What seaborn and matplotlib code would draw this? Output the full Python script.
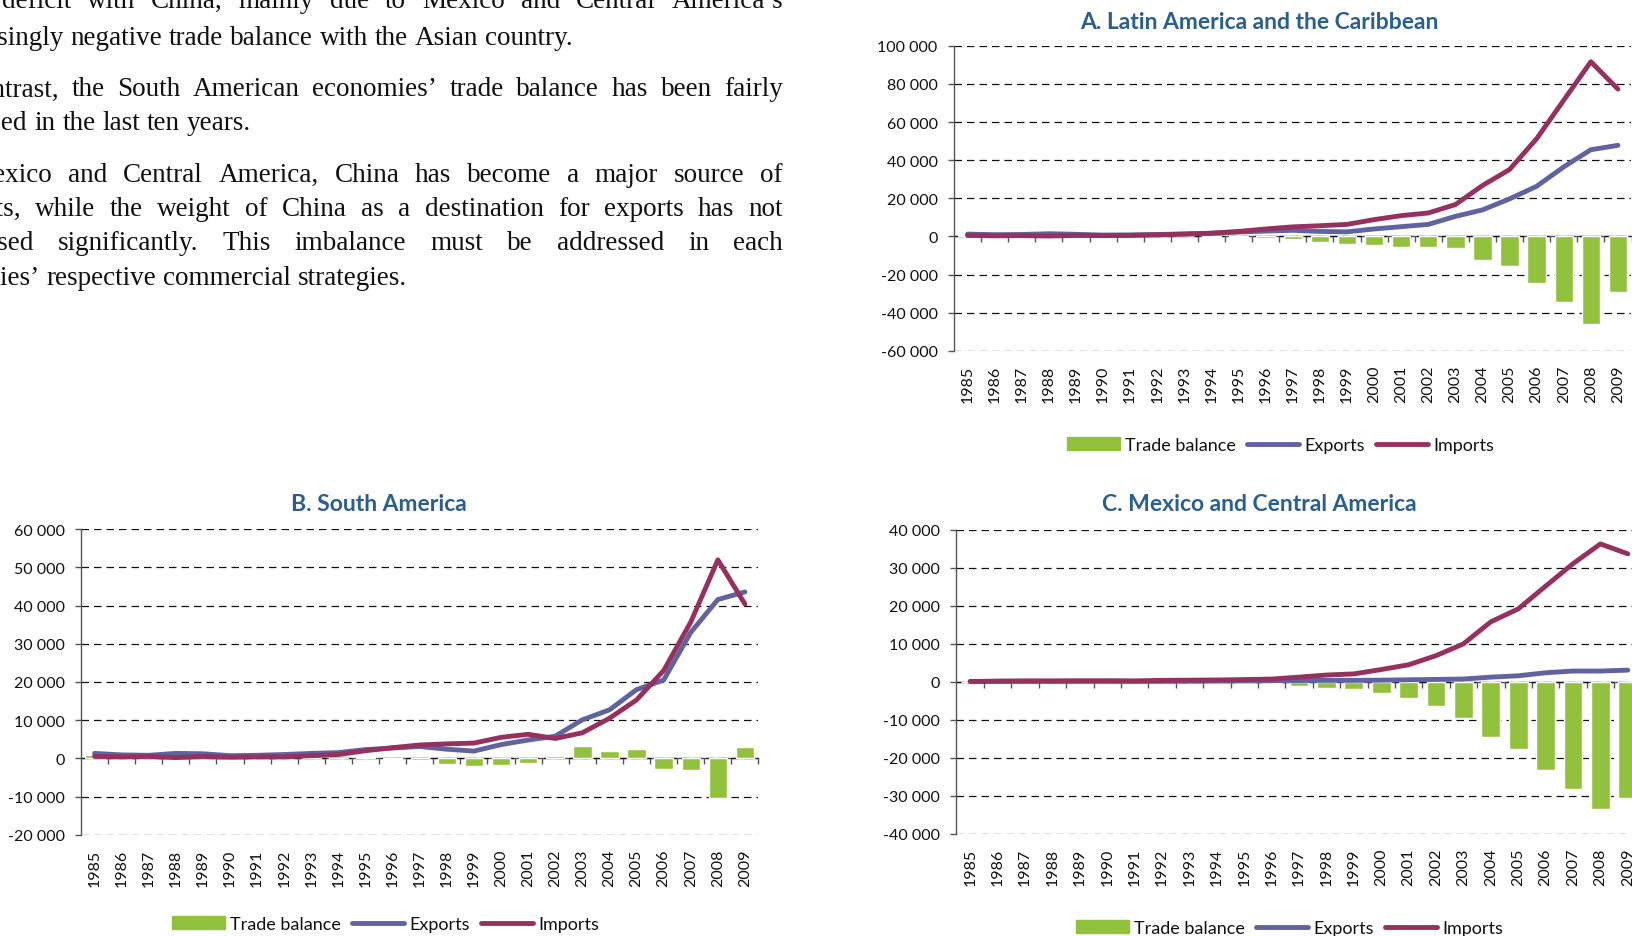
import numpy as np
import pandas as pd
import matplotlib
matplotlib.use("Agg")
import matplotlib.pyplot as plt
import matplotlib.patches as mpatches
import matplotlib.lines as mlines
from matplotlib.ticker import FuncFormatter
import seaborn as sns

years = list(range(1985, 2010))

# A. Latin America and the Caribbean (millions of dollars)
lac_balance = [700, 600, 600, 1200, 600, 300, 300, 200, 100, -100, -300, -700, -1300,
               -2800, -3900, -4400, -5500, -5500, -6000, -12300, -15500, -24400, -34300,
               -45900, -29300]
lac_exports = [1200, 900, 1000, 1400, 1100, 700, 800, 1000, 1300, 1600, 2300, 2800, 3200,
               2600, 2400, 3900, 5100, 6300, 10500, 13900, 19700, 26300, 36500, 45500, 47800]
lac_imports = [500, 300, 400, 200, 500, 400, 500, 800, 1200, 1700, 2600, 3900, 5000,
               5600, 6300, 8800, 10900, 12300, 16700, 26700, 35100, 51300, 71500, 91700, 77300]

# B. South America
sa_balance = [800, 500, 300, 1100, 700, 400, 400, 600, 600, 700, 350, -100, -400,
              -1400, -1900, -1700, -1200, 600, 3200, 1900, 2400, -2800, -3000, -10300, 3000]
sa_exports = [1300, 900, 800, 1300, 1200, 700, 800, 1000, 1300, 1500, 2300, 2700, 3100,
              2400, 1900, 3600, 4800, 5800, 10100, 12700, 18000, 20500, 33000, 41600, 43600]
sa_imports = [500, 400, 500, 200, 500, 300, 400, 400, 700, 1000, 2000, 2800, 3500,
              3800, 4000, 5500, 6300, 5200, 6700, 10500, 15300, 23000, 35700, 52000, 40400]

# C. Mexico and Central America
mca_balance = [0, -50, -100, -100, -150, -150, -100, -250, -250, -300, -350, -450, -1100,
               -1650, -1950, -3000, -4300, -6400, -9600, -14600, -17800, -23300, -28300,
               -33500, -30700]
mca_exports = [0, 50, 50, 50, 50, 50, 50, 50, 100, 100, 150, 200, 250,
               300, 300, 350, 450, 550, 650, 1150, 1500, 2300, 2750, 2750, 3000]
mca_imports = [0, 100, 150, 150, 200, 200, 150, 300, 350, 400, 500, 650, 1150,
               1700, 2000, 3150, 4400, 6800, 9900, 15700, 19100, 25100, 31000, 36200, 33600]

legend_labels = ["Trade balance", "Exports", "Imports"]

body_lines = [
    ("trade deficit with China, mainly due to Mexico and Central America\u2019s", True),
    ("increasingly negative trade balance with the Asian country.", False),
    ("In contrast, the South American economies\u2019 trade balance has been fairly", True),
    ("balanced in the last ten years.", False),
    ("In Mexico and Central America, China has become a major source of", True),
    ("imports, while the weight of China as a destination for exports has not", True),
    ("increased significantly. This imbalance must be addressed in each", True),
    ("countries\u2019 respective commercial strategies.", False),
]
body_baselines = [8, 45, 96.5, 130, 182, 216.5, 250.5, 285]

GREEN = "#92C13E"
EXP_C = "#6063A0"
IMP_C = "#96305E"
TITLE_C = "#2A5F8F"
AX_C = "#555555"

sns.set_theme(style="white")
plt.rcParams["font.family"] = ["Lato", "DejaVu Sans"]

W, H = 1633, 937
fig = plt.figure(figsize=(W / 100, H / 100), dpi=100)
renderer = fig.canvas.get_renderer()


def add_axes_px(left, top, right, bottom):
    return fig.add_axes([left / W, 1 - bottom / H, (right - left) / W, (bottom - top) / H])


def thousands(v, _):
    return f"{int(round(v)):,}".replace(",", " ")


def draw_panel(ax, balance, exports, imports, ymin, ymax, step):
    n = len(years)
    df = pd.DataFrame({"pos": np.arange(n), "year": [str(y) for y in years],
                       "balance": balance, "exports": exports, "imports": imports})
    sns.barplot(data=df, x="pos", y="balance", native_scale=True, color=GREEN,
                saturation=1, width=0.68, ax=ax, zorder=2)
    sns.lineplot(data=df, x="pos", y="exports", color=EXP_C, lw=3.5, ax=ax, zorder=4,
                 solid_capstyle="round", solid_joinstyle="round")
    sns.lineplot(data=df, x="pos", y="imports", color=IMP_C, lw=3.5, ax=ax, zorder=5,
                 solid_capstyle="round", solid_joinstyle="round")
    ax.set_xlim(-0.5, n - 0.5)
    ax.set_ylim(ymin, ymax)
    ax.set_xlabel("")
    ax.set_ylabel("")
    ax.set_xticks(df["pos"], labels=df["year"], rotation=90)
    ax.tick_params(axis="x", length=0, pad=10, labelsize=11.5, colors="#111111")
    ax.set_yticks(np.arange(ymin, ymax + 1, step))
    ax.yaxis.set_major_formatter(FuncFormatter(thousands))
    ax.tick_params(axis="y", length=4.3, width=1, color=AX_C, pad=7.5,
                   labelsize=11.5, labelcolor="#111111", left=True)
    ax.grid(axis="y", ls=(0, (6, 4)), color="#111111", lw=0.9)
    ax.set_axisbelow(True)
    for s in ["top", "right", "bottom"]:
        ax.spines[s].set_visible(False)
    ax.spines["left"].set_color(AX_C)
    ax.spines["left"].set_linewidth(1)
    # horizontal axis crossing at zero with ticks between categories
    sec = ax.secondary_xaxis((0 - ymin) / (ymax - ymin))
    sec.set_alignment("bottom")
    sec.set_xticks(np.arange(n) + 0.5)
    sec.tick_params(length=4.3, width=1, color=AX_C, direction="out",
                    labelbottom=False, labeltop=False)
    for s in sec.spines.values():
        s.set_color(AX_C)
        s.set_linewidth(1)


panels = [
    # axes box (left, top, right, bottom) px, data, y range, title, title pos, legend pos
    ((954, 46.9, 1631.5, 351.7), (lac_balance, lac_exports, lac_imports), (-60000, 100000, 20000),
     "A. Latin America and the Caribbean", (1259, 29), (1281, 446)),
    ((81, 530.3, 758.5, 835.7), (sa_balance, sa_exports, sa_imports), (-20000, 60000, 10000),
     "B. South America", (379, 511), (386, 925)),
    ((956.5, 530.5, 1641.5, 834.5), (mca_balance, mca_exports, mca_imports), (-40000, 40000, 10000),
     "C. Mexico and Central America", (1259, 511), (1290, 929)),
]

handles = [
    mpatches.Patch(color=GREEN),
    mlines.Line2D([], [], color=EXP_C, lw=3.5, solid_capstyle="round"),
    mlines.Line2D([], [], color=IMP_C, lw=3.5, solid_capstyle="round"),
]

for box, data, yr, title, tpos, lpos in panels:
    ax = add_axes_px(*box)
    draw_panel(ax, *data, *yr)
    fig.text(tpos[0] / W, 1 - tpos[1] / H, title, ha="center", va="baseline",
             fontsize=16.5, fontweight="bold", color=TITLE_C)
    fig.legend(handles, legend_labels, loc="center",
               bbox_to_anchor=(lpos[0] / W, 1 - lpos[1] / H), bbox_transform=fig.transFigure,
               ncol=3, frameon=False, fontsize=13, handlelength=2.9, handletextpad=0.3,
               columnspacing=0.6, borderpad=0, labelcolor="#111111")

# body text, justified, its left margin lies just off the page
BODY_FONT = "Liberation Serif"
BODY_SIZE = 19.5
TEXT_RIGHT = 783


def text_width(s):
    t = fig.text(0, 0, s, fontsize=BODY_SIZE, family=BODY_FONT)
    w = t.get_window_extent(renderer).width
    t.remove()
    return w


space_w = text_width("a a") - text_width("aa")
TEXT_LEFT = -(text_width("balan") + text_width("increa") + text_width("count")) / 3 - 7

for (line, justify), base in zip(body_lines, body_baselines):
    words = line.split(" ")
    objs = [fig.text(0, 1 - base / H, w, fontsize=BODY_SIZE, family=BODY_FONT,
                     ha="left", va="baseline", color="#111111") for w in words]
    widths = [o.get_window_extent(renderer).width for o in objs]
    gap = space_w
    if justify and len(words) > 1:
        gap = max((TEXT_RIGHT - TEXT_LEFT - sum(widths)) / (len(words) - 1), space_w * 0.6)
    x = TEXT_LEFT
    for o, w in zip(objs, widths):
        o.set_x(x / W)
        x += w + gap

fig.savefig("out.png", dpi=100)
